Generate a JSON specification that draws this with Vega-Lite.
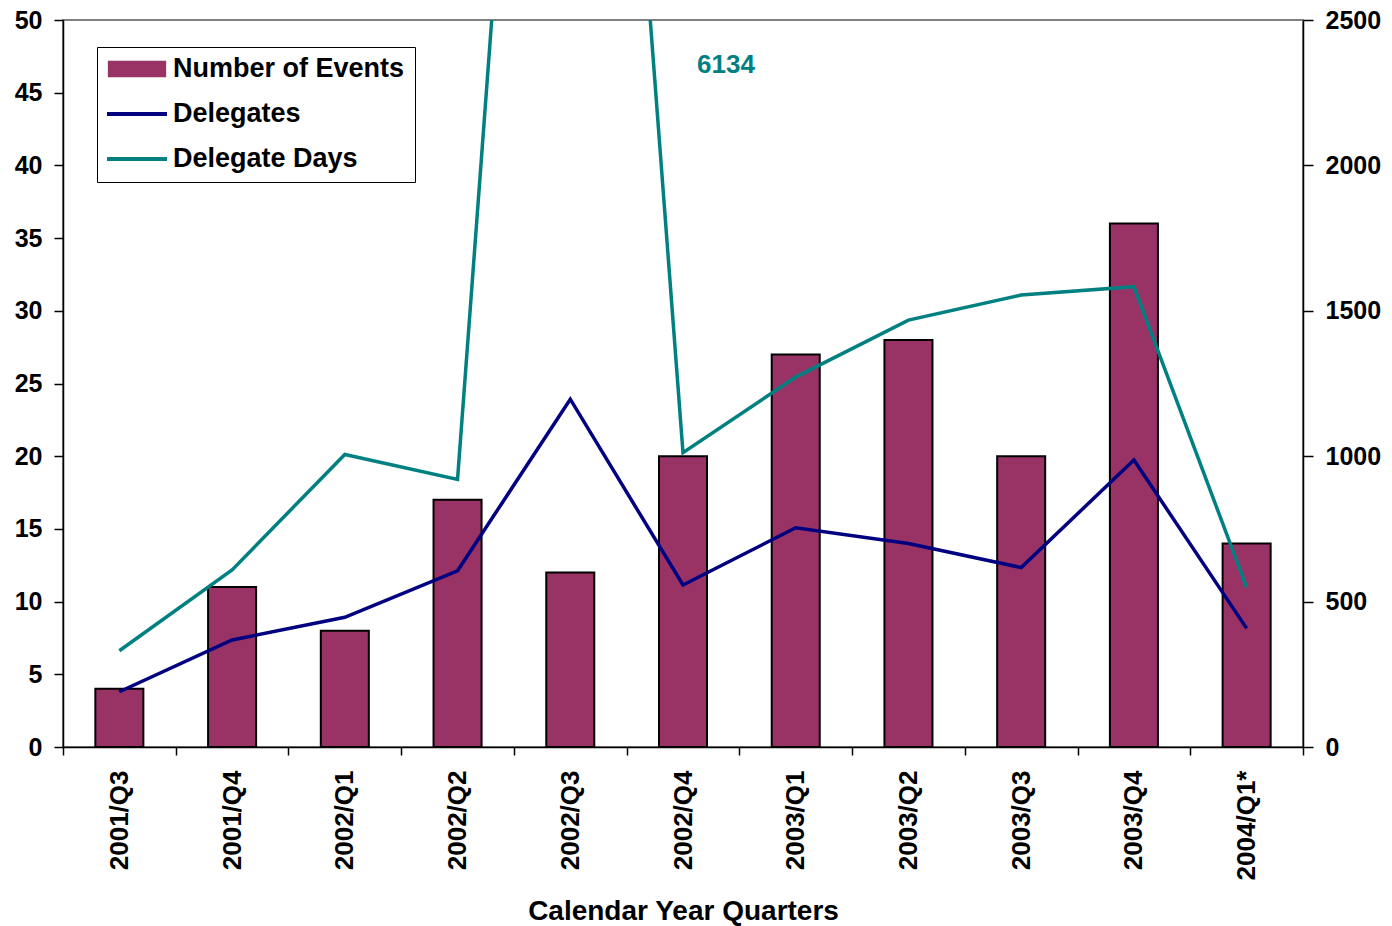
{
  "$schema": "https://vega.github.io/schema/vega-lite/v6.json",
  "width": 1240,
  "height": 727,
  "autosize": {"type": "none"},
  "padding": {"left": 63, "top": 20, "right": 89, "bottom": 179},
  "background": "white",
  "config": {
    "font": "Liberation Sans",
    "view": {"stroke": "#808080", "strokeWidth": 2},
    "axis": {"labelFont": "Liberation Sans", "labelFontWeight": "bold", "labelColor": "black", "titleFont": "Liberation Sans", "titleFontWeight": "bold", "titleColor": "black", "domainColor": "black", "tickColor": "black", "grid": false, "domainWidth": 1.5, "tickWidth": 1.5},
    "legend": {
      "title": null, "orient": "none", "legendX": 34, "legendY": 27,
      "padding": 10, "strokeColor": "black", "fillColor": "white",
      "symbolSize": 3600, "clipHeight": 24, "rowPadding": 18, "labelOffset": 2, "labelLimit": 0,
      "labelFont": "Liberation Sans", "labelFontSize": 27, "labelFontWeight": "bold", "labelColor": "black"
    }
  },
  "data": {
    "values": [
      {"quarter": "2001/Q3", "events": 4, "delegates": 190, "days": 331},
      {"quarter": "2001/Q4", "events": 11, "delegates": 368, "days": 609},
      {"quarter": "2002/Q1", "events": 8, "delegates": 446, "days": 1006},
      {"quarter": "2002/Q2", "events": 17, "delegates": 606, "days": 920},
      {"quarter": "2002/Q3", "events": 12, "delegates": 1196, "days": 6134},
      {"quarter": "2002/Q4", "events": 20, "delegates": 557, "days": 1012},
      {"quarter": "2003/Q1", "events": 27, "delegates": 754, "days": 1272},
      {"quarter": "2003/Q2", "events": 28, "delegates": 700, "days": 1468},
      {"quarter": "2003/Q3", "events": 20, "delegates": 617, "days": 1554},
      {"quarter": "2003/Q4", "events": 36, "delegates": 987, "days": 1583},
      {"quarter": "2004/Q1*", "events": 14, "delegates": 408, "days": 549}
    ]
  },
  "encoding": {
    "x": {
      "field": "quarter", "type": "nominal", "sort": null,
      "scale": {"paddingInner": 0, "paddingOuter": 0},
      "axis": {"title": "Calendar Year Quarters", "titleFontSize": 28, "titlePadding": 18, "labelAngle": -90, "labelFontSize": 26, "labelPadding": 15, "tickSize": 8, "tickBand": "extent", "labelBaseline": "middle", "labelAlign": "right"}
    }
  },
  "layer": [
    {
      "mark": {"type": "bar", "width": {"band": 0.426}, "stroke": "black", "strokeWidth": 2},
      "encoding": {
        "y": {"field": "events", "type": "quantitative", "scale": {"domain": [0, 50]}, "axis": {"title": null, "values": [0,5,10,15,20,25,30,35,40,45,50], "labelFontSize": 25, "tickSize": 9, "labelPadding": 12}},
        "color": {"datum": "Number of Events", "type": "nominal",
          "scale": {"domain": ["Number of Events", "Delegates", "Delegate Days"], "range": ["#993366", "#000080", "#008080"]},
          "legend": {
            "title": null,
            "encode": {
              "symbols": {"update": {
                "shape": {"signal": "datum.value === 'Number of Events' ? 'M-0.93,-0.23H0.93V0.23H-0.93Z' : 'stroke'"},
                "size": {"value": 3600},
                "x": {"value": 30},
                "fill": {"signal": "datum.value === 'Number of Events' ? '#993366' : 'transparent'"},
                "stroke": {"signal": "datum.value === 'Number of Events' ? 'black' : (datum.value === 'Delegates' ? '#000080' : '#008080')"},
                "strokeWidth": {"signal": "datum.value === 'Number of Events' ? 2.5 : 4"},
                "opacity": {"value": 1}
              }},
              "labels": {"update": {"x": {"value": 66}}}
            }
          }
        }
      }
    },
    {
      "encoding": {
        "y": {"type": "quantitative", "scale": {"domain": [0, 2500]}, "axis": {"title": null, "orient": "right", "format": "d", "values": [0,500,1000,1500,2000,2500], "labelFontSize": 25, "tickSize": 10, "labelPadding": 12}}
      },
      "layer": [
        {
          "transform": [{"fold": ["delegates", "days"], "as": ["key", "val"]}, {"calculate": "datum.key === 'delegates' ? 'Delegates' : 'Delegate Days'", "as": "series"}],
          "mark": {"type": "line", "clip": true, "strokeWidth": 3.5},
          "encoding": {
            "y": {"field": "val", "type": "quantitative"},
            "color": {"field": "series", "type": "nominal",
              "scale": {"domain": ["Number of Events", "Delegates", "Delegate Days"], "range": ["#993366", "#000080", "#008080"]},
              "legend": {
                "title": null,
                "encode": {
                  "symbols": {"update": {
                    "shape": {"signal": "datum.value === 'Number of Events' ? 'M-0.93,-0.23H0.93V0.23H-0.93Z' : 'stroke'"},
                    "size": {"value": 3600},
                    "x": {"value": 30},
                    "fill": {"signal": "datum.value === 'Number of Events' ? '#993366' : 'transparent'"},
                    "stroke": {"signal": "datum.value === 'Number of Events' ? 'black' : (datum.value === 'Delegates' ? '#000080' : '#008080')"},
                    "strokeWidth": {"signal": "datum.value === 'Number of Events' ? 2.5 : 4"},
                    "opacity": {"value": 1}
                  }},
                  "labels": {"update": {"x": {"value": 66}}}
                }
              }
            }
          }
        },
        {
          "data": {"values": [{"quarter": "2002/Q4", "label": "6134", "pos": 2345}]},
          "mark": {"type": "text", "font": "Liberation Sans", "fontSize": 26, "fontWeight": "bold", "color": "#008080", "dx": 43, "baseline": "middle"},
          "encoding": {
            "text": {"field": "label"},
            "y": {"field": "pos", "type": "quantitative"}
          }
        }
      ]
    }
  ],
  "resolve": {"scale": {"y": "independent"}}
}
